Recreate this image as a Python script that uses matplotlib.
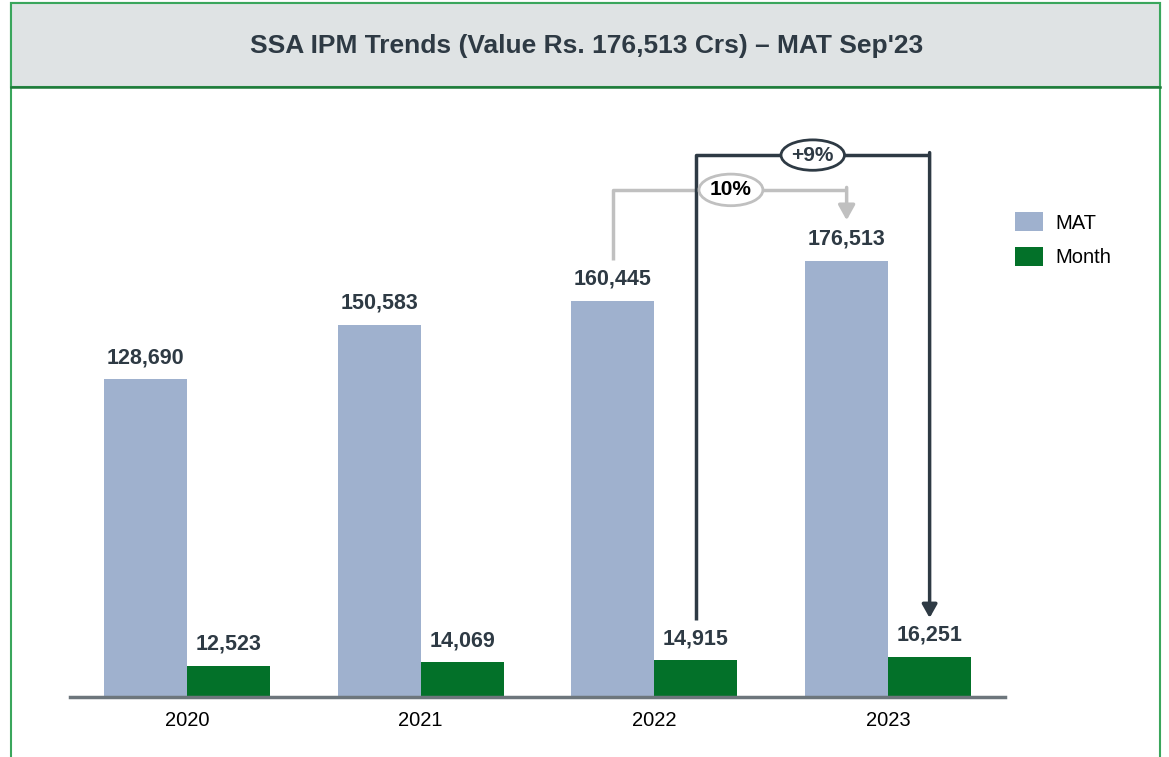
import matplotlib.pyplot as plt
from matplotlib.patches import Rectangle
import numpy as np

plt.rcParams['font.family'] = ['Liberation Sans', 'DejaVu Sans']

# data
years = ['2020', '2021', '2022', '2023']
mat = [128690, 150583, 160445, 176513]
month = [12523, 14069, 14915, 16251]
mat_growth = '10%'
month_growth = '+9%'

c_mat = '#9fb1ce'
c_month = '#037129'
c_text = '#2e3a44'
c_gray = '#c0c0c0'

fig = plt.figure(figsize=(11.69, 7.57), dpi=100)

# frame and header
fig.patches.append(Rectangle((11/1169, -0.05), 1149/1169, 1.05 - 3/757, transform=fig.transFigure,
                             facecolor='white', edgecolor='#3aa65c', lw=1.5, zorder=-3))
fig.patches.append(Rectangle((11/1169, 1 - 87/757), 1149/1169, 84/757, transform=fig.transFigure,
                             facecolor='#dfe3e4', edgecolor='#3aa65c', lw=1.5, zorder=-2))
fig.lines.append(plt.Line2D([11/1169, 1160/1169], [1 - 87/757, 1 - 87/757], transform=fig.transFigure,
                            color='#1f7a3a', lw=1.8, zorder=-1))
fig.text(587/1169, 1 - 46/757, "SSA IPM Trends (Value Rs. 176,513 Crs) \u2013 MAT Sep'23",
         ha='center', va='center', fontsize=19, fontweight='bold', color=c_text)

ax = fig.add_axes([70/1169, 1 - 697/757, 935/1169, 597/757])
ax.patch.set_alpha(0)

x = np.arange(len(years))
w = 0.355
b1 = ax.bar(x - w/2, mat, w, color=c_mat, label='MAT')
b2 = ax.bar(x + w/2, month, w, color=c_month, label='Month')

for xi, v in zip(x, mat):
    ax.annotate(f'{v:,}', (xi - w/2, v), xytext=(0, 8), textcoords='offset points',
                ha='center', va='bottom', fontsize=15.5, fontweight='bold', color=c_text)
for xi, v in zip(x, month):
    ax.annotate(f'{v:,}', (xi + w/2, v), xytext=(0, 8), textcoords='offset points',
                ha='center', va='bottom', fontsize=15.5, fontweight='bold', color=c_text)

ax.set_xlim(-0.5, 3.5)
ax.set_ylim(0, 241700)
ax.set_xticks(x)
ax.set_xticklabels(years, fontsize=14.5)
ax.tick_params(axis='x', length=0, pad=10)
ax.set_yticks([])
for s in ['top', 'right', 'left']:
    ax.spines[s].set_visible(False)
ax.spines['bottom'].set_color('#6d767c')
ax.spines['bottom'].set_linewidth(2.5)

# growth connectors
x0, x1 = 2 - w/2, 3 - w/2
y_top = 205300
ax.plot([x0, x0, x1, x1], [176900, y_top, y_top, y_top], color=c_gray, lw=2.5, solid_capstyle='butt', zorder=3)
ax.annotate('', xy=(x1, 193000), xytext=(x1, y_top + 1000),
            arrowprops=dict(arrowstyle='-|>,head_length=0.9,head_width=0.5', color=c_gray, lw=2.5,
                            shrinkA=0, shrinkB=0), zorder=3)
ax.text((x0 + x1) / 2 + 0.005, y_top, mat_growth, ha='center', va='center', fontsize=15,
        fontweight='bold', color='black', zorder=5,
        bbox=dict(boxstyle='ellipse,pad=0.08', fc='white', ec=c_gray, lw=2))

m0, m1 = 2 + w/2, 3 + w/2
m_top = 219400
ax.plot([m0, m0, m1, m1], [31200, m_top, m_top, m_top], color=c_text, lw=2.5, solid_capstyle='butt', zorder=3)
ax.annotate('', xy=(m1, 32000), xytext=(m1, m_top + 1000),
            arrowprops=dict(arrowstyle='-|>,head_length=0.8,head_width=0.45', color=c_text, lw=2.5,
                            shrinkA=0, shrinkB=0), zorder=3)
ax.text((m0 + m1) / 2, m_top, month_growth, ha='center', va='center', fontsize=15,
        fontweight='bold', color=c_text, zorder=5,
        bbox=dict(boxstyle='ellipse,pad=0.06', fc='white', ec=c_text, lw=2))

leg = fig.legend(handles=[b1, b2], loc='upper left', bbox_to_anchor=(997/1169, 1 - 194/757),
                 frameon=False, fontsize=14.5, handlelength=1.4, handleheight=1.1,
                 handletextpad=0.6, labelspacing=0.7)

fig.savefig('out.png', dpi=100)
